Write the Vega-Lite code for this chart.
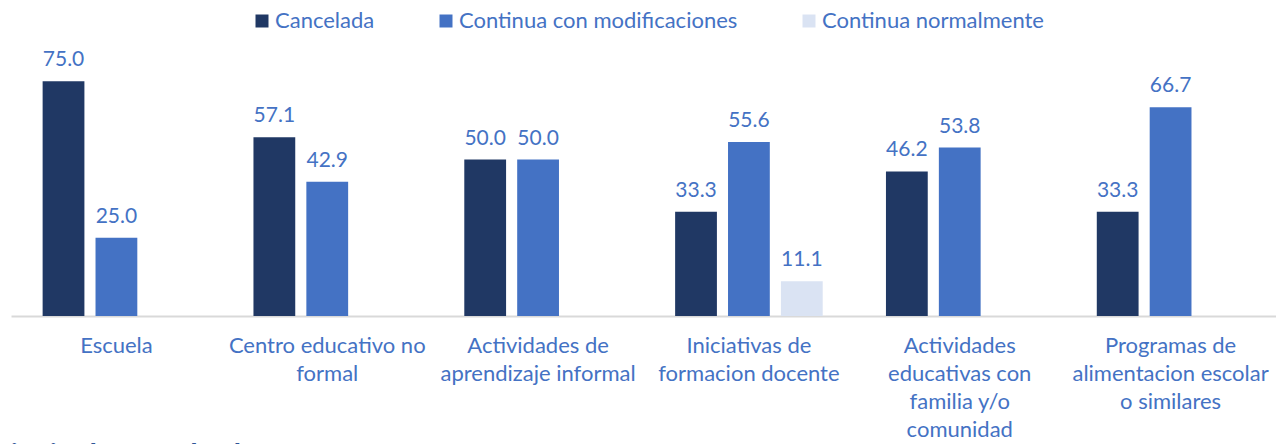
{
  "$schema": "https://vega.github.io/schema/vega-lite/v6.json",
  "autosize": "none",
  "width": 1265,
  "height": 313,
  "padding": {"left": 11, "top": 3, "right": 0, "bottom": 128},
  "background": "white",
  "config": {
    "view": {"stroke": null},
    "font": "Lato",
    "text": {"font": "Lato"}
  },
  "title": {
    "text": "Principales resultados:",
    "orient": "bottom",
    "anchor": "start",
    "frame": "group",
    "offset": 2,
    "dx": -30,
    "fontSize": 30,
    "fontWeight": "bold",
    "color": "#2F5597",
    "font": "Lato"
  },
  "data": {
    "values": [
      {"cat": "Escuela", "serie": "Cancelada", "v": 75.0},
      {"cat": "Escuela", "serie": "Continua con modificaciones", "v": 25.0},
      {"cat": "Centro educativo no|formal", "serie": "Cancelada", "v": 57.1},
      {"cat": "Centro educativo no|formal", "serie": "Continua con modificaciones", "v": 42.9},
      {"cat": "Actividades de|aprendizaje informal", "serie": "Cancelada", "v": 50.0},
      {"cat": "Actividades de|aprendizaje informal", "serie": "Continua con modificaciones", "v": 50.0},
      {"cat": "Iniciativas de|formacion docente", "serie": "Cancelada", "v": 33.3},
      {"cat": "Iniciativas de|formacion docente", "serie": "Continua con modificaciones", "v": 55.6},
      {"cat": "Iniciativas de|formacion docente", "serie": "Continua normalmente", "v": 11.1},
      {"cat": "Actividades|educativas con|familia y/o|comunidad", "serie": "Cancelada", "v": 46.2},
      {"cat": "Actividades|educativas con|familia y/o|comunidad", "serie": "Continua con modificaciones", "v": 53.8},
      {"cat": "Programas de|alimentacion escolar|o similares", "serie": "Cancelada", "v": 33.3},
      {"cat": "Programas de|alimentacion escolar|o similares", "serie": "Continua con modificaciones", "v": 66.7}
    ]
  },
  "encoding": {
    "x": {
      "field": "cat",
      "type": "nominal",
      "sort": null,
      "scale": {"paddingInner": 0.3, "paddingOuter": 0.15},
      "axis": {
        "title": null,
        "labelAngle": 0,
        "labelExpr": "split(datum.value, '|')",
        "labelFontSize": 22,
        "labelColor": "#4472C4",
        "labelLineHeight": 28,
        "labelPadding": 19,
        "labelBaseline": "top",
        "labelOverlap": false,
        "labelBound": false,
        "labelFlush": false,
        "labelLimit": 300,
        "ticks": false,
        "domainColor": "#D9D9D9",
        "domainWidth": 2
      }
    },
    "xOffset": {
      "field": "serie",
      "type": "nominal",
      "scale": {"domain": ["Cancelada", "Continua con modificaciones", "Continua normalmente"], "paddingInner": 0.21}
    },
    "y": {
      "field": "v",
      "type": "quantitative",
      "scale": {"domain": [0, 100]},
      "axis": null
    }
  },
  "layer": [
    {
      "mark": {"type": "bar"},
      "encoding": {
        "color": {
          "field": "serie",
          "type": "nominal",
          "scale": {
            "domain": ["Cancelada", "Continua con modificaciones", "Continua normalmente"],
            "range": ["#203864", "#4472C4", "#DAE3F3"]
          },
          "legend": {
            "title": null,
            "orient": "none",
            "direction": "horizontal",
            "legendX": 240,
            "legendY": 7,
            "symbolType": "square",
            "symbolSize": 169,
            "symbolStrokeWidth": 0,
            "symbolOpacity": 1,
            "labelFontSize": 22,
            "labelColor": "#4472C4",
            "labelOffset": 2,
            "columnPadding": 60,
            "labelLimit": 400
          }
        }
      }
    },
    {
      "mark": {"type": "text", "baseline": "bottom", "dy": -11, "fontSize": 21, "color": "#4472C4"},
      "encoding": {
        "text": {"field": "v", "type": "quantitative", "format": ".1f"}
      }
    }
  ]
}
